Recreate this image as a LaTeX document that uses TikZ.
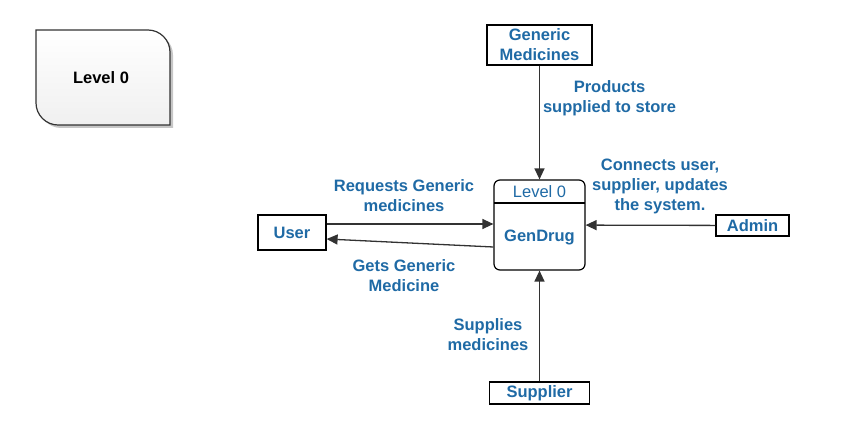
\documentclass[tikz,border=0pt]{standalone}
\usepackage{fontspec}
\setmainfont{Liberation Sans}
\usepackage{tikz}
\usetikzlibrary{arrows.meta}
\definecolor{dfdblue}{RGB}{31,106,165}
\definecolor{flowgray}{RGB}{50,50,50}
\tikzset{
  dfdtext/.style={font=\fontsize{16.5}{20}\selectfont\bfseries,text=dfdblue,align=center,inner sep=0pt},
  entity/.style={draw=black,line width=1.2pt,dfdtext,minimum width=#1},
  flow/.style={draw=flowgray,line width=1.3pt,-{Triangle[length=11pt,width=10pt]}},
}
\begin{document}
\begin{tikzpicture}[x=1pt,y=-1pt]
\useasboundingbox (0,0) rectangle (866,435);
\fill[gray!45] (39,33) -- (151,33) .. controls (163,33) and (173,43) .. (173,55) -- (173,128) -- (61,128) .. controls (49,128) and (39,118) .. (39,106) -- cycle;
\shade[top color=white,bottom color=gray!12,draw=black!80,line width=1.2pt] (36,30) -- (148,30) .. controls (160,30) and (170,40) .. (170,52) -- (170,125) -- (58,125) .. controls (46,125) and (36,115) .. (36,103) -- cycle;
\node[dfdtext,text=black] (levelzero) at (101,78) {Level 0};
\node[draw=black,line width=1.2pt,rounded corners=6pt,minimum width=91pt,minimum height=90pt] (gendrug) at (539.5,225) {};
\draw[line width=1.2pt] (494,203) -- (585,203);
\node[dfdtext,font=\fontsize{16.5}{20}\selectfont] (gendrughead) at (539.5,192) {Level 0};
\node[dfdtext] (gendrugname) at (539.5,237) {GenDrug};
\node[entity=105pt,minimum height=40pt] (generic) at (539.5,45) {Generic\\Medicines};
\node[entity=68pt,minimum height=35pt] (user) at (292,232.5) {User};
\node[entity=73pt,minimum height=21pt] (admin) at (752.5,225.5) {Admin};
\node[entity=100pt,minimum height=22pt] (supplier) at (539.5,393) {Supplier};
\draw[flow] (generic) -- (gendrug);
\draw[flow] (admin) -- (gendrug);
\draw[flow] (supplier) -- (gendrug);
\draw[flow] ([yshift=8.5pt]user.east) -- ([yshift=1pt]gendrug.west);
\draw[flow] ([yshift=-22pt]gendrug.west) -- ([yshift=-6.5pt]user.east);
\node[dfdtext] (products) at (609.5,98) {Products\\supplied to store};
\node[dfdtext] (connects) at (660,186) {Connects user,\\supplier, updates\\the system.};
\node[dfdtext] (requests) at (404,196) {Requests Generic\\medicines};
\node[dfdtext] (gets) at (404,275.5) {Gets Generic\\Medicine};
\node[dfdtext] (supplies) at (488,334.5) {Supplies\\medicines};
\end{tikzpicture}
\end{document}
